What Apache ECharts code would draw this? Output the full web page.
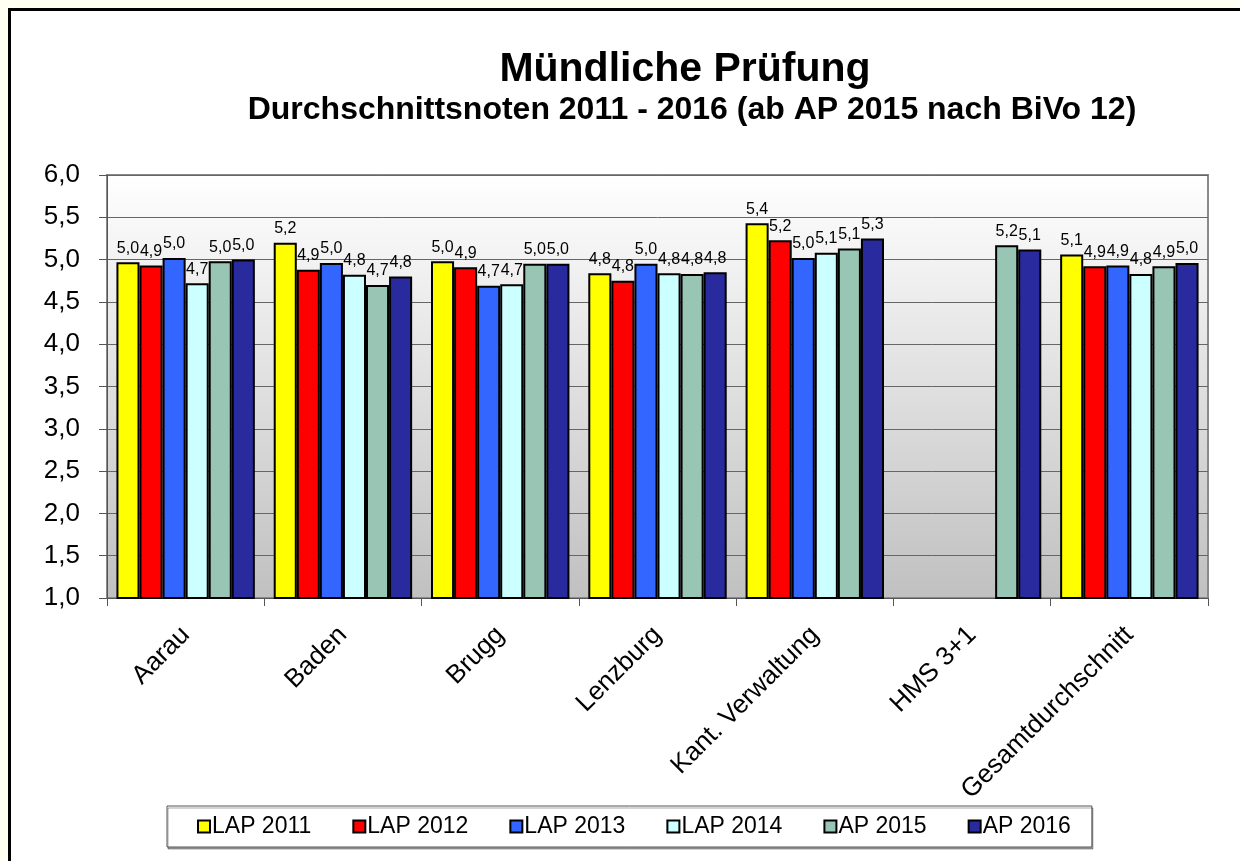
<!DOCTYPE html>
<html>
<head>
<meta charset="utf-8">
<script src="https://cdn.jsdelivr.net/npm/echarts@6/dist/echarts.min.js"></script>
<style>
  html, body { margin: 0; padding: 0; background: #FFFFF2; overflow: hidden; }
  #frame {
    position: absolute; left: 8px; top: 8px;
    width: 1240px; height: 860px;
    border: 3px solid #000; background: #fff;
  }
  #chart { width: 1229px; height: 850px; }
</style>
</head>
<body>
<div id="frame"><div id="chart"></div></div>
<script>
// Kategorien und Serien
const categories = ['Aarau', 'Baden', 'Brugg', 'Lenzburg', 'Kant. Verwaltung', 'HMS 3+1', 'Gesamtdurchschnitt'];
const seriesNames = ['LAP 2011', 'LAP 2012', 'LAP 2013', 'LAP 2014', 'AP 2015', 'AP 2016'];
const lap2011 = [4.97, 5.20, 4.98, 4.84, 5.43, null, 5.06];
const lap2012 = [4.93, 4.88, 4.91, 4.75, 5.23, null, 4.92];
const lap2013 = [5.02, 4.96, 4.69, 4.95, 5.02, null, 4.93];
const lap2014 = [4.72, 4.82, 4.71, 4.84, 5.08, null, 4.83];
const ap2015 = [4.98, 4.70, 4.95, 4.83, 5.13, 5.17, 4.92];
const ap2016 = [5.00, 4.80, 4.95, 4.85, 5.25, 5.12, 4.96];
const yTicks = [1, 6, 0.5]; // min, max, interval

const colors = ['#FFFF00', '#FF0000', '#3366FF', '#CCFFFF', '#99C6B4', '#2A2A9F'];
const allData = [lap2011, lap2012, lap2013, lap2014, ap2015, ap2016];

const comma = v => v.toFixed(1).replace('.', ',');
const font = 'Liberation Sans, Arial, sans-serif';

const chart = echarts.init(document.getElementById('chart'));

const option = {
    animation: false,
    textStyle: { fontFamily: font },
    title: [
        {
            text: 'Mündliche Prüfung',
            left: 669, top: 33, textAlign: 'center',
            textStyle: { fontSize: 41, fontWeight: 'bold', color: '#000', fontFamily: font }
        },
        {
            text: 'Durchschnittsnoten 2011 - 2016 (ab AP 2015 nach BiVo 12)',
            left: 676, top: 78, textAlign: 'center',
            textStyle: { fontSize: 32, fontWeight: 'bold', color: '#000', fontFamily: font }
        }
    ],
    legend: {
        data: seriesNames,
        left: 156,
        top: 795,
        padding: [9, 21, 9, 30],
        itemGap: 41,
        itemWidth: 12,
        itemHeight: 12,
        borderColor: '#555',
        borderWidth: 1,
        backgroundColor: '#fff',
        shadowColor: 'rgba(0,0,0,0.35)',
        shadowOffsetX: 1,
        shadowOffsetY: 2,
        icon: 'rect',
        textStyle: { fontSize: 23, color: '#000', fontFamily: font, padding: [0, 0, 0, -3] }
    },
    grid: {
        left: 96, right: 32, top: 164, bottom: 263,
        show: true,
        borderColor: '#8a8a8a',
        borderWidth: 2,
        backgroundColor: new echarts.graphic.LinearGradient(0, 0, 0, 1, [
            { offset: 0, color: '#FFFFFF' },
            { offset: 1, color: '#C0C0C0' }
        ])
    },
    xAxis: {
        type: 'category',
        data: categories,
        axisLine: { lineStyle: { color: '#555', width: 1 } },
        axisTick: { show: true, length: 8, lineStyle: { color: '#555' } },
        axisLabel: { rotate: 45, fontSize: 26, color: '#000', margin: 33, fontFamily: font }
    },
    yAxis: {
        type: 'value',
        min: yTicks[0], max: yTicks[1], interval: yTicks[2],
        axisLine: { show: true, lineStyle: { color: '#555', width: 1 } },
        axisTick: { show: true, length: 8, lineStyle: { color: '#555' } },
        axisLabel: { fontSize: 26, color: '#000', margin: 27, formatter: v => comma(v), fontFamily: font },
        splitLine: { lineStyle: { color: '#666', width: 1 } }
    },
    series: allData.map((d, i) => ({
        name: seriesNames[i],
        type: 'bar',
        data: d,
        barGap: '0%',
        barCategoryGap: '12%',
        itemStyle: { color: colors[i], borderColor: '#000', borderWidth: 2 },
        label: {
            show: true,
            position: 'top',
            distance: 6,
            fontSize: 16,
            color: '#000',
            fontFamily: font,
            formatter: p => (p.value == null ? '' : comma(p.value))
        }
    }))
};

chart.setOption(option);
</script>
</body>
</html>
